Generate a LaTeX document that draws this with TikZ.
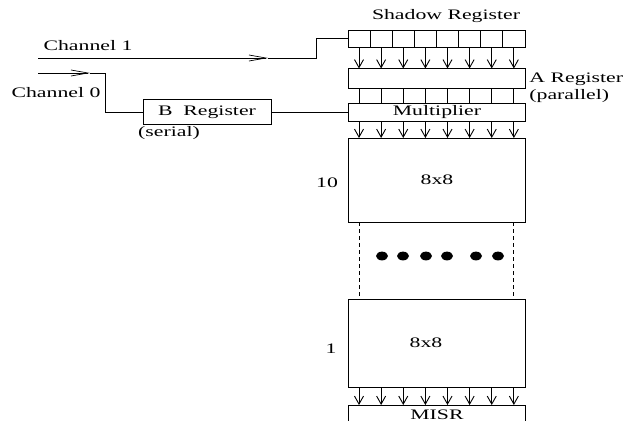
\documentclass[tikz,border=0pt]{standalone}
\usepackage{fontspec}
\setmainfont{Liberation Serif}[FakeStretch=1.5]
\usetikzlibrary{arrows.meta,calc}
\begin{document}
\begin{tikzpicture}[x=1pt,y=-1pt,line width=0.9pt,
  box/.style={draw,inner sep=0pt,outer sep=0pt,minimum width=177pt},
  lbl/.style={inner sep=0pt,font=\fontsize{14.5}{17}\selectfont},
  busarrow/.style={-{Straight Barb[length=8pt,width=9pt,line width=0.9pt]}},
  chanarrow/.style={-{Straight Barb[length=17pt,width=6pt,line width=0.7pt]}},
  vdash/.style={dashed,dash pattern=on 4pt off 3pt}]
\useasboundingbox (0,0) rectangle (633,421);
\clip (0,0) rectangle (633,421);
% registers
\node[box,minimum height=17pt] (shadow) at (436.5,38.5) {};
\node[box,minimum height=20pt] (areg) at (436.5,78.5) {};
\node[box,minimum height=18pt] (mult) at (436.5,112) {};
\node[box,minimum height=84pt] (m10) at (436.5,180) {};
\node[box,minimum height=88pt] (m1) at (436.5,343) {};
\node[box,minimum height=30pt] (misr) at (436.5,420) {};
% labels
\node[lbl] (tshadow) at (446,16) {Shadow Register};
\node[lbl,anchor=west] (ta) at (529,79) {A Register};
\node[lbl,anchor=west] (tpar) at (529,96) {(parallel)};
\node[lbl] (tmult) at (437,112) {Multiplier};
\node[lbl] (t10) at (327,183) {10};
\node[lbl] (t1) at (331,349) {1};
\node[lbl] (tq1) at (437,180) {8x8};
\node[lbl] (tq2) at (426,343) {8x8};
\node[lbl] (tmisr) at (437,414.5) {MISR};
% bus positions
\foreach \i in {0,...,7} {
  \coordinate (c\i) at (359+22.125*\i,0);
}
\foreach \i in {1,...,7} {
  \coordinate (d\i) at (348+22.125*\i,0);
  \draw (shadow.north -| d\i) -- (shadow.south -| d\i);
}
\foreach \i in {0,...,7} {
  \draw[busarrow] (shadow.south -| c\i) -- (areg.north -| c\i);
  \draw (areg.south -| c\i) -- (mult.north -| c\i);
  \draw[busarrow] (mult.south -| c\i) -- (m10.north -| c\i);
  \draw[busarrow] (m1.south -| c\i) -- (misr.north -| c\i);
}
% dashed continuation
\draw[vdash] (m10.south -| c0) -- (m1.north -| c0);
\draw[vdash] (m10.south -| c7) -- (m1.north -| c7);
\foreach \x [count=\k] in {382,403,426,447,476,498} {
  \fill (\x,256) ellipse [x radius=6pt, y radius=4.4pt];
}
% B register
\node[box,minimum width=128pt,minimum height=25pt] (breg) at (207,112) {};
\node[lbl] (tbreg) at (207,112) {B~ Register};
\node[lbl] (tserial) at (169,133) {(serial)};
% channels
\node[lbl] (tch1) at (88,46) {Channel 1};
\node[lbl] (tch0) at (56,93) {Channel 0};
\coordinate (ch1s) at (38,58);
\coordinate (ch1a) at (268,58);
\coordinate (ch1k) at (316,58);
\draw[chanarrow] (ch1s) -- (ch1a);
\draw (ch1a) -- (ch1k) |- (shadow.west);
\coordinate (ch0s) at (38,73);
\coordinate (ch0a) at (90,73);
\coordinate (ch0k) at (105,73);
\draw[chanarrow] (ch0s) -- (ch0a);
\draw (ch0a) -- (ch0k) |- (breg.west);
\draw (breg.east) -- (mult.west);
\end{tikzpicture}
\end{document}
